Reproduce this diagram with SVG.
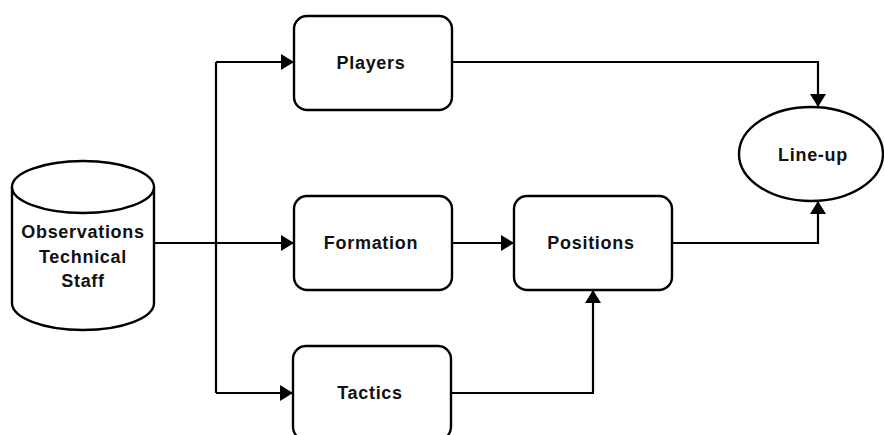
<svg xmlns="http://www.w3.org/2000/svg" width="884" height="435" viewBox="0 0 884 435">
<style>
.shape{fill:#fff;stroke:#000;stroke-width:2.4}
.lbl{font-family:"Liberation Sans",Arial,sans-serif;font-weight:bold;font-size:18px;letter-spacing:0.7px;fill:#111;text-anchor:middle;dominant-baseline:central}
.conn{fill:none;stroke:#000;stroke-width:2.2}
</style>
<defs>
<marker id="arr" viewBox="0 0 13 16" refX="13" refY="8" markerWidth="13" markerHeight="16" markerUnits="userSpaceOnUse" orient="auto">
<path d="M0,0 L13,8 L0,16 Z" fill="#000"/>
</marker>
</defs>
<rect width="884" height="435" fill="#fff"/>
<g id="connectors">
<path class="conn" d="M154,243 H216" stroke-width="3"/>
<path class="conn" d="M216,62 V393"/>
<path class="conn" d="M216,62 H294" marker-end="url(#arr)"/>
<path class="conn" d="M216,243 H294" marker-end="url(#arr)"/>
<path class="conn" d="M216,393 H293" marker-end="url(#arr)"/>
<path class="conn" d="M452,243 H514" marker-end="url(#arr)"/>
<path class="conn" d="M452,62 H818 V107" marker-end="url(#arr)"/>
<path class="conn" d="M672,243 H818 V201" marker-end="url(#arr)"/>
<path class="conn" d="M451,393 H593 V290" marker-end="url(#arr)"/>
</g>
<g id="observations">
<path class="shape" d="M12,187 V303 A71,27 0 0 0 154,303 V187"/>
<ellipse class="shape" cx="83" cy="187" rx="71" ry="26"/>
<text class="lbl" x="83" y="232">Observations</text>
<text class="lbl" x="83" y="257">Technical</text>
<text class="lbl" x="83" y="281">Staff</text>
</g>
<g id="players">
<rect class="shape" x="294" y="16" width="158" height="94" rx="13"/>
<text class="lbl" x="371" y="63">Players</text>
</g>
<g id="formation">
<rect class="shape" x="294" y="196" width="158" height="94" rx="13"/>
<text class="lbl" x="371" y="243">Formation</text>
</g>
<g id="positions">
<rect class="shape" x="514" y="196" width="158" height="94" rx="13"/>
<text class="lbl" x="591" y="243">Positions</text>
</g>
<g id="tactics">
<rect class="shape" x="293" y="346" width="158" height="94" rx="13"/>
<text class="lbl" x="370" y="393">Tactics</text>
</g>
<g id="lineup">
<ellipse class="shape" cx="811" cy="154" rx="72" ry="47"/>
<text class="lbl" x="813" y="155">Line-up</text>
</g>
</svg>
